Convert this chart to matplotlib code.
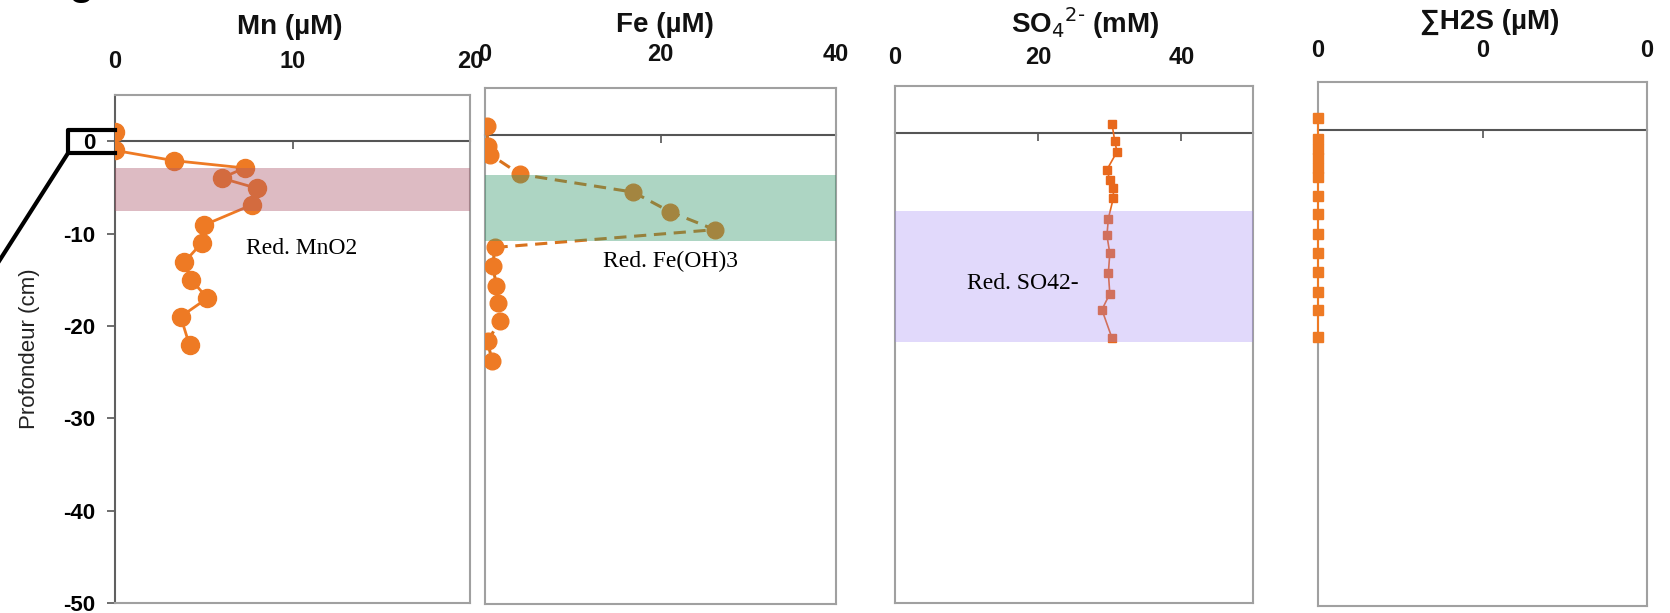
import matplotlib
matplotlib.use('Agg')
import matplotlib.pyplot as plt
import numpy as np

plt.rcParams['font.family'] = ['Liberation Sans', 'DejaVu Sans']
plt.rcParams['axes.unicode_minus'] = False

# -- data read from the profiles (depth in cm, negative downwards)
mn_depth = [1.0, -1.0, -2.1, -2.9, -4.0, -5.1, -6.9, -9.1, -11.0, -13.1, -15.0, -17.0, -19.0, -22.1]
mn_conc = [0.0, 0.0, 3.3, 7.3, 6.0, 8.0, 7.7, 5.0, 4.9, 3.9, 4.3, 5.2, 3.7, 4.2]

fe_depth = [0.9, -1.2, -2.1, -4.2, -6.1, -8.2, -10.1, -12.0, -14.0, -16.1, -17.9, -19.8, -22.0, -24.1]
fe_conc = [0.2, 0.35, 0.6, 4.0, 16.9, 21.1, 26.2, 1.1, 0.9, 1.3, 1.5, 1.7, 0.3, 0.8]

so4_depth = [1.0, -0.9, -2.0, -3.9, -5.0, -5.9, -6.9, -9.1, -10.9, -12.8, -14.9, -17.1, -18.8, -21.8]
so4_conc = [30.3, 30.7, 31.0, 29.6, 30.0, 30.5, 30.5, 29.8, 29.6, 30.0, 29.8, 30.0, 28.9, 30.3]

h2s_depth = [1.2, -1.0, -2.0, -3.0, -4.0, -5.0, -7.0, -8.9, -11.0, -12.9, -14.9, -17.0, -18.9, -21.8]
h2s_conc = [0.0] * len(h2s_depth)

# reduction zones (top, bottom) in cm
zone_mn = (-2.9, -7.6)
zone_fe = (-4.3, -11.3)
zone_so4 = (-8.3, -22.2)

W, H = 1670, 613
fig = plt.figure(figsize=(W / 100, H / 100), dpi=100)


def add_panel(left, right, top, bottom):
    return fig.add_axes([left / W, 1 - bottom / H, (right - left) / W, (bottom - top) / H])


ax1 = add_panel(115, 470, 95, 603)
ax2 = add_panel(485, 836, 88, 604)
ax3 = add_panel(895, 1253, 86, 603)
ax4 = add_panel(1318, 1647, 82, 606)

orange = '#EE7A24'
ymin, ymax = -50, 5

# axes, title, x range, ticks, tick label pad, title centre (px)
panels = [
    (ax1, 'Mn (µM)', (0, 20), [0, 10, 20], 16, (290, 27)),
    (ax2, 'Fe (µM)', (0, 40), [0, 20, 40], 15.5, (665, 25)),
    (ax3, r'SO$_4$$^{2\text{-}}$ (mM)', (0, 50), [0, 20, 40], 12, (1085, 23)),
    (ax4, '∑H2S (µM)', (0, 0.002), [0, 0.001, 0.002], 14.5, (1490, 22)),
]

for ax, title, xl, xt, pad, tpos in panels:
    ax.set_xlim(*xl)
    ax.set_ylim(ymin, ymax)
    ax.set_xticks(xt)
    ax.xaxis.set_major_formatter(matplotlib.ticker.FormatStrFormatter('%.0f'))
    ax.xaxis.set_ticks_position('top')
    ax.tick_params(axis='x', length=0, pad=pad, labelsize=17, colors='#111111')
    for lab in ax.get_xticklabels():
        lab.set_fontweight('bold')
    fig.text(tpos[0] / W, 1 - tpos[1] / H, title, fontsize=20, fontweight='bold',
             ha='center', va='center', color='#111111')
    for sp in ax.spines.values():
        sp.set_color('#a0a0a0')
        sp.set_linewidth(1.5)
    # horizontal axis crossing at depth 0
    zero = (0 - ymin) / (ymax - ymin)
    sec = ax.secondary_xaxis(zero)
    sec.set_xticks(xt)
    sec.tick_params(direction='in', length=6, width=1.2, color='#555555',
                    labeltop=False, labelbottom=False)
    for sp in sec.spines.values():
        sp.set_color('#555555')
        sp.set_linewidth(1.5)
    if ax is not ax1:
        ax.set_yticks([])

# y axis on first panel
ax1.set_yticks([0, -10, -20, -30, -40, -50])
ax1.tick_params(axis='y', direction='out', length=6, width=1.2, color='#555555',
                labelsize=16, pad=8)
for lab in ax1.get_yticklabels():
    lab.set_fontweight('bold')
ax1.spines['left'].set_color('#606060')
ax1.set_ylabel('Profondeur (cm)', fontsize=16, color='#222222')
ax1.yaxis.set_label_coords(-(115 - 40) / 355, 0.5)

# profiles
ax1.plot(mn_conc, mn_depth, '-o', color=orange, lw=2, ms=13, zorder=3)
ax2.plot(fe_conc, fe_depth, '--o', color='#D8731E', lw=2.2, ms=12, zorder=3,
         dashes=(4, 2.5), mfc='#EE7A24', mec='#EE7A24')
ax3.plot(so4_conc, so4_depth, '-s', color='#E8681C', lw=1.2, ms=6, zorder=3)
ax4.plot(h2s_conc, h2s_depth, '-s', color=orange, lw=1.5, ms=7, zorder=3, clip_on=False)

# reduction zones (overlaid)
ax1.axhspan(zone_mn[1], zone_mn[0], color='#AC5569', alpha=0.4, lw=0, zorder=4)
ax2.axhspan(zone_fe[1], zone_fe[0], color='#34986B', alpha=0.4, lw=0, zorder=4)
ax3.axhspan(zone_so4[1], zone_so4[0], color='#9E84F5', alpha=0.3, lw=0, zorder=4)

txt = dict(fontsize=17, family='Liberation Serif', color='black', va='center', zorder=5)
ax1.text(7.4, -11.6, 'Red. MnO2', **txt)
ax2.text(13.4, -13.5, 'Red. Fe(OH)3', **txt)
ax3.text(10.1, -16.0, 'Red. SO42-', **txt)

# zoom bracket around the "0" label
bx = dict(color='black', lw=3, clip_on=False, zorder=6)
ax1.plot([0, -2.65, -2.65, 0], [1.2, 1.2, -1.3, -1.3], **bx)
ax1.plot([-2.65, -7.2], [-1.3, -15.0], **bx)

# panel letter, cut by the top edge
fig.text(68 / W, 1 + 6 / H, 'g', fontsize=30, fontweight='bold', va='baseline')

fig.savefig('out.png', dpi=100)
